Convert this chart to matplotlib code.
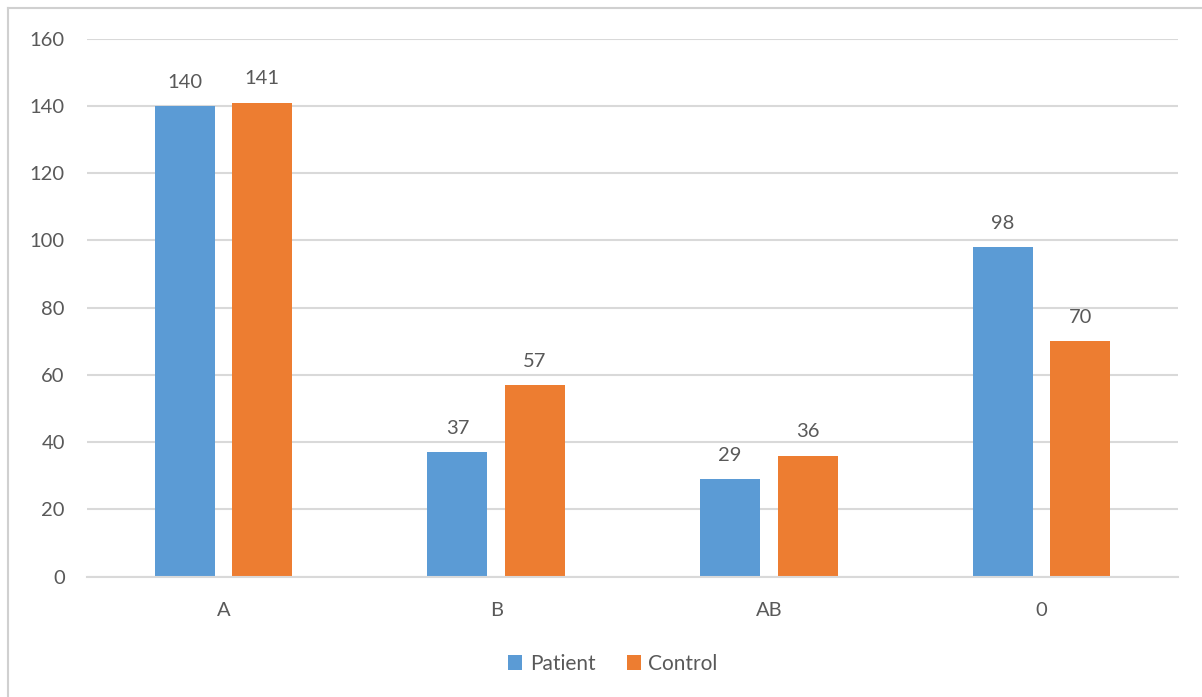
# Grouped bar chart of blood groups: patients vs controls
import numpy as np
import matplotlib
matplotlib.use('Agg')
import matplotlib.pyplot as plt
from matplotlib.lines import Line2D


BLOOD_GROUPS = ['A', 'B', 'AB', '0']
PATIENT = [140, 37, 29, 98]
CONTROL = [141, 57, 36, 70]
Y_TICKS = [0, 20, 40, 60, 80, 100, 120, 140, 160]

BLUE = '#5B9BD5'
ORANGE = '#ED7D31'
TEXT_GREY = '#595959'
GRID_GREY = '#D9D9D9'


def main():
    plt.rcParams['font.family'] = ['Lato', 'DejaVu Sans']

    fig = plt.figure(figsize=(12.02, 6.97), dpi=100)
    ax = fig.add_axes([0.0724, 0.1726, 0.9076, 0.7719])

    x = np.arange(len(BLOOD_GROUPS))
    width = 0.22
    offset = 0.142

    bars_p = ax.bar(x - offset, PATIENT, width, color=BLUE, label='Patient', zorder=3)
    bars_c = ax.bar(x + offset, CONTROL, width, color=ORANGE, label='Control', zorder=3)

    for bars in (bars_p, bars_c):
        ax.bar_label(bars, padding=11, fontsize=14.5, color=TEXT_GREY)

    ax.set_xlim(-0.5, len(BLOOD_GROUPS) - 0.5)
    ax.set_ylim(0, 160)
    ax.set_yticks(Y_TICKS)
    ax.set_xticks(x)
    ax.set_xticklabels(BLOOD_GROUPS)

    ax.grid(axis='y', color=GRID_GREY, linewidth=1.5, zorder=0)
    for side in ('top', 'right', 'left'):
        ax.spines[side].set_visible(False)
    ax.spines['bottom'].set_color(GRID_GREY)
    ax.spines['bottom'].set_linewidth(1.5)
    ax.spines['bottom'].set_zorder(4)

    ax.tick_params(axis='both', length=0, labelsize=14.5, labelcolor=TEXT_GREY)
    ax.tick_params(axis='y', pad=16)
    ax.tick_params(axis='x', pad=18)

    ax.legend(loc='center', bbox_to_anchor=(0.482, -0.162), ncol=2, frameon=False,
              fontsize=15, labelcolor=TEXT_GREY, handlelength=0.7, handleheight=0.7,
              handletextpad=0.35, columnspacing=1.5)

    # chart frame on the left and top edges
    fig.add_artist(Line2D([0.0067, 0.0067], [0.0, 0.9885], color='#D0D0D0',
                          linewidth=1.5, transform=fig.transFigure))
    fig.add_artist(Line2D([0.0067, 1.0], [0.9885, 0.9885], color='#D0D0D0',
                          linewidth=1.5, transform=fig.transFigure))

    fig.savefig('out.png', dpi=100)
    plt.close(fig)


if __name__ == '__main__':
    main()
